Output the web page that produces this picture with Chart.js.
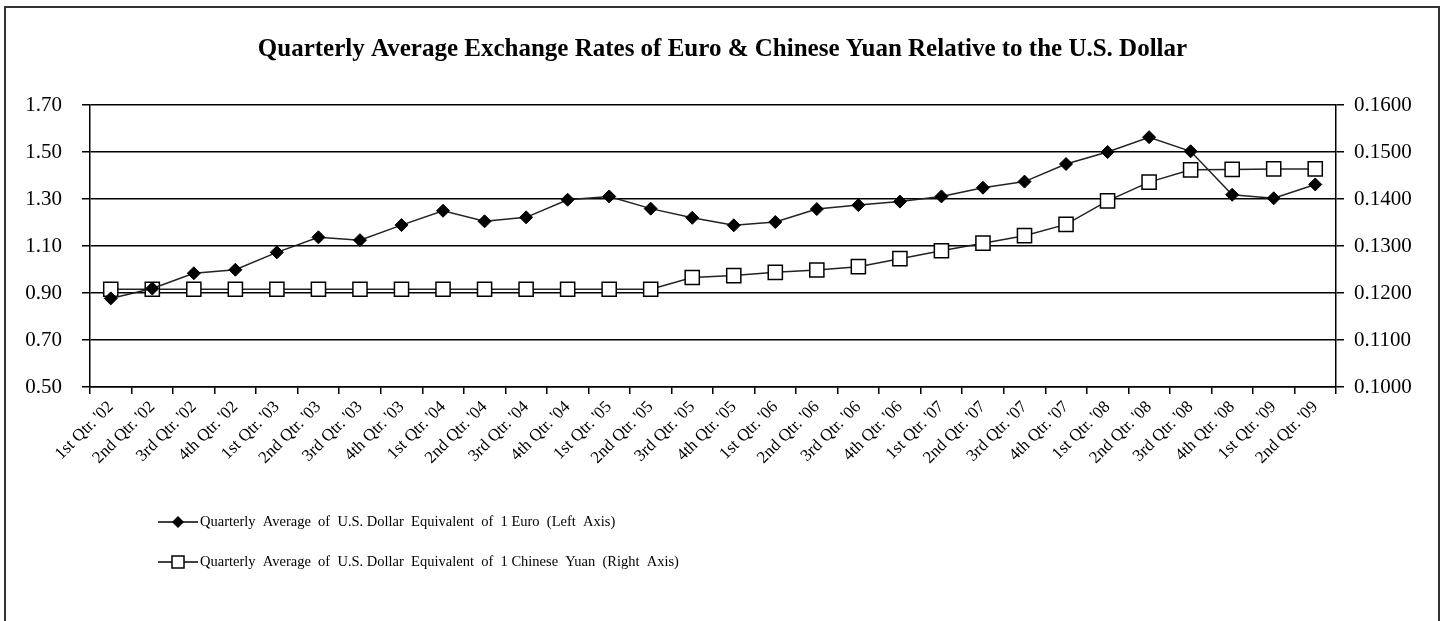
<!DOCTYPE html>
<html>
<head>
<meta charset="utf-8">
<script src="https://cdn.jsdelivr.net/npm/chart.js@4"></script>
<style>
  body { margin: 0; background: #fff; }
  #wrap { position: relative; width: 1445px; height: 621px; }
  #frame { position: absolute; left: 4px; top: 6px; width: 1432px; height: 700px; border: 2px solid #333; pointer-events: none; }
</style>
</head>
<body>
<div id="wrap">
  <canvas id="rateChart"></canvas>
  <div id="frame"></div>
</div>
<script>
const quarters = [
  "1st Qtr. '02", "2nd Qtr. '02", "3rd Qtr. '02", "4th Qtr. '02",
  "1st Qtr. '03", "2nd Qtr. '03", "3rd Qtr. '03", "4th Qtr. '03",
  "1st Qtr. '04", "2nd Qtr. '04", "3rd Qtr. '04", "4th Qtr. '04",
  "1st Qtr. '05", "2nd Qtr. '05", "3rd Qtr. '05", "4th Qtr. '05",
  "1st Qtr. '06", "2nd Qtr. '06", "3rd Qtr. '06", "4th Qtr. '06",
  "1st Qtr. '07", "2nd Qtr. '07", "3rd Qtr. '07", "4th Qtr. '07",
  "1st Qtr. '08", "2nd Qtr. '08", "3rd Qtr. '08", "4th Qtr. '08",
  "1st Qtr. '09", "2nd Qtr. '09"
];

const euroValues = [
  0.877, 0.919, 0.984, 0.999,
  1.073, 1.137, 1.125, 1.189,
  1.250, 1.205, 1.222, 1.297,
  1.311, 1.259, 1.220, 1.188,
  1.202, 1.257, 1.274, 1.289,
  1.311, 1.348, 1.374, 1.449,
  1.500, 1.563, 1.503, 1.318,
  1.303, 1.362
];

const yuanValues = [
  0.1208, 0.1208, 0.1208, 0.1208,
  0.1208, 0.1208, 0.1208, 0.1208,
  0.1208, 0.1208, 0.1208, 0.1208,
  0.1208, 0.1208, 0.1233, 0.1237,
  0.1244, 0.1249, 0.1256, 0.1273,
  0.1290, 0.1306, 0.1322, 0.1346,
  0.1396, 0.1436, 0.1462, 0.1463,
  0.1464, 0.1464
];

const leftTicks = [0.5, 0.7, 0.9, 1.1, 1.3, 1.5, 1.7];
const rightTicks = [0.10, 0.11, 0.12, 0.13, 0.14, 0.15, 0.16];

const titleText = "Quarterly Average Exchange Rates of Euro & Chinese Yuan Relative to the U.S. Dollar";
const euroLabel = "Quarterly  Average  of  U.S. Dollar  Equivalent  of  1 Euro  (Left  Axis)";
const yuanLabel = "Quarterly  Average  of  U.S. Dollar  Equivalent  of  1 Chinese  Yuan  (Right  Axis)";

const serif = "'Liberation Serif', 'Times New Roman', serif";

// legend under the axis: a short line with the marker in the middle, then the text
const lineLegend = {
  id: "lineLegend",
  afterDraw(chart) {
    const ctx = chart.ctx;
    const rows = [
      { y: chart.chartArea.bottom + 135, ds: chart.data.datasets[0] },
      { y: chart.chartArea.bottom + 175, ds: chart.data.datasets[1] }
    ];
    ctx.save();
    rows.forEach((row) => {
      ctx.strokeStyle = "#000";
      ctx.lineWidth = 1.5;
      ctx.beginPath();
      ctx.moveTo(158, row.y);
      ctx.lineTo(198, row.y);
      ctx.stroke();
      if (row.ds.pointStyle === "rectRot") {
        ctx.fillStyle = "#000";
        ctx.beginPath();
        ctx.moveTo(178, row.y - 6);
        ctx.lineTo(184, row.y);
        ctx.lineTo(178, row.y + 6);
        ctx.lineTo(172, row.y);
        ctx.closePath();
        ctx.fill();
      } else {
        ctx.fillStyle = "#fff";
        ctx.fillRect(172, row.y - 6, 12, 12);
        ctx.strokeRect(172, row.y - 6, 12, 12);
      }
      ctx.fillStyle = "#000";
      ctx.font = "14.5px " + serif;
      ctx.textBaseline = "middle";
      ctx.textAlign = "left";
      ctx.fillText(row.ds.label, 200, row.y);
    });
    ctx.restore();
  }
};

const ctx = document.getElementById("rateChart").getContext("2d");
document.getElementById("rateChart").parentNode.style.height = "621px";

new Chart(ctx, {
  type: "line",
  data: {
    labels: quarters,
    datasets: [
      {
        label: euroLabel,
        data: euroValues,
        yAxisID: "y",
        borderColor: "#222",
        borderWidth: 1.5,
        pointStyle: "rectRot",
        pointRadius: 6.5,
        pointBackgroundColor: "#000",
        pointBorderColor: "#000",
        pointBorderWidth: 1,
        tension: 0
      },
      {
        label: yuanLabel,
        data: yuanValues,
        yAxisID: "y1",
        borderColor: "#222",
        borderWidth: 1.5,
        pointStyle: "rect",
        pointRadius: 10,
        pointBackgroundColor: "#fff",
        pointBorderColor: "#000",
        pointBorderWidth: 1.5,
        tension: 0
      }
    ]
  },
  options: {
    responsive: true,
    maintainAspectRatio: false,
    animation: false,
    layout: { padding: { left: 0, right: 0, top: 0, bottom: 134 } },
    plugins: {
      legend: { display: false },
      tooltip: { enabled: false },
      title: {
        display: true,
        text: titleText,
        color: "#000",
        font: { family: serif, size: 25, weight: "bold" },
        padding: { top: 35, bottom: 40 }
      }
    },
    scales: {
      x: {
        offset: true,
        grid: {
          offset: true,
          drawOnChartArea: false,
          drawTicks: true,
          tickLength: 7,
          color: "#000",
          lineWidth: 1.5
        },
        border: { color: "#000", width: 1.5 },
        ticks: {
          autoSkip: false,
          maxRotation: 45,
          minRotation: 45,
          padding: 3,
          color: "#000",
          font: { family: serif, size: 17 }
        },
        afterFit(scale) {
          scale.height = 100;
        }
      },
      y: {
        position: "left",
        min: 0.5,
        max: 1.7,
        afterBuildTicks(scale) {
          scale.ticks = leftTicks.map((v) => ({ value: v }));
        },
        grid: { color: "#000", lineWidth: 1.5, tickLength: 8 },
        border: { color: "#000", width: 1.5 },
        ticks: {
          padding: 20,
          color: "#000",
          font: { family: serif, size: 21 },
          callback: (v) => v.toFixed(2)
        },
        afterFit(scale) {
          scale.width = 90;
        }
      },
      y1: {
        position: "right",
        min: 0.1,
        max: 0.16,
        afterBuildTicks(scale) {
          scale.ticks = rightTicks.map((v) => ({ value: v }));
        },
        grid: { drawOnChartArea: false, color: "#000", lineWidth: 1.5, tickLength: 8 },
        border: { color: "#000", width: 1.5 },
        ticks: {
          padding: 10,
          color: "#000",
          font: { family: serif, size: 21 },
          callback: (v) => v.toFixed(4)
        },
        afterFit(scale) {
          scale.width = 109;
        }
      }
    }
  },
  plugins: [lineLegend]
});
</script>
</body>
</html>
